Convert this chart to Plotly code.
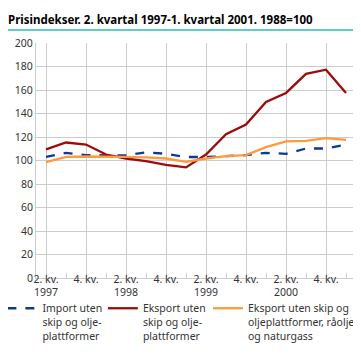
import plotly.graph_objects as go

quarters = ["2. kv.<br>1997", "3. kv. 1997", "4. kv.", "1. kv. 1998",
            "2. kv.<br>1998", "3. kv. 1998", "4. kv.", "1. kv. 1999",
            "2. kv.<br>1999", "3. kv. 1999", "4. kv.", "1. kv. 2000",
            "2. kv.<br>2000", "3. kv. 2000", "4. kv.", "1. kv. 2001"]

import_vals = [103, 106.5, 104.6, 104.3, 104.3, 107, 105.7, 103,
               103, 103.7, 104.6, 106.5, 105.7, 110.2, 110.2, 113.6]
eksport_vals = [109.4, 115.3, 113.6, 105.1, 101.7, 99.5, 96.3, 94.1,
                105.1, 122.4, 130.6, 149.9, 157.5, 173.7, 177.3, 157.5]
eksport_uten_olje = [98.6, 103.1, 103.4, 103.4, 103.1, 102.6, 101.7, 98.9,
                     101.7, 103.7, 104.6, 111.4, 116.2, 116.7, 119, 117.6]

names = ["Import uten<br>skip og olje-<br>plattformer",
         "Eksport uten<br>skip og olje-<br>plattformer",
         "Eksport uten skip og<br>oljeplattformer, råolje<br>og naturgass"]
colors = ["#0b3a96", "#9e0a0a", "#ff9a3c"]
dashes = ["dash", "solid", "solid"]
series = [import_vals, eksport_vals, eksport_uten_olje]
legend_ids = ["legend", "legend2", "legend3"]
legend_x = [-0.105, 0.209, 0.5375]

idx = list(range(len(quarters)))
fig = go.Figure()
for name, vals, c, d, lg in zip(names, series, colors, dashes, legend_ids):
    fig.add_trace(go.Scatter(x=idx, y=vals, mode="lines", name=name, legend=lg,
                             line=dict(color=c, width=2.3, dash=d)))

font = "Noto Sans, Open Sans, sans-serif"
legend_common = dict(orientation="v", xanchor="left", y=-0.072, yanchor="top",
                     valign="top", font=dict(size=10.5, color="#333333"),
                     bgcolor="rgba(0,0,0,0)")
tick_idx = idx[::2]
fig.update_layout(
    width=361, height=359,
    margin=dict(l=28, r=13, t=35, b=89, autoexpand=False),
    paper_bgcolor="white", plot_bgcolor="white",
    font=dict(family=font, size=11, color="#333333"),
    showlegend=True,
    legend=dict(x=legend_x[0], **legend_common),
    legend2=dict(x=legend_x[1], **legend_common),
    legend3=dict(x=legend_x[2], **legend_common),
    title=dict(text="<b>Prisindekser. 2. kvartal 1997-1. kvartal 2001. 1988=100</b>",
               x=0.0, xanchor="left", y=0.968, yanchor="middle",
               font=dict(family=font, size=11.5, color="#000000")),
    shapes=[
        dict(type="line", xref="paper", yref="paper", x0=-0.1, x1=1.1,
             y0=(359 - 22 - 89) / 235, y1=(359 - 22 - 89) / 235,
             line=dict(color="#5ccdc9", width=2)),
        dict(type="line", xref="paper", yref="paper", x0=-0.1, x1=1.1,
             y0=(359 - 357 - 89) / 235, y1=(359 - 357 - 89) / 235,
             line=dict(color="#5ccdc9", width=2)),
    ],
)
fig.update_xaxes(
    range=[-0.5, 15.5], tickmode="array", tickvals=tick_idx,
    ticktext=[quarters[i].split(" 19")[0] if "<br>" not in quarters[i] else quarters[i] for i in tick_idx],
    showgrid=True, gridcolor="#cccccc", gridwidth=1,
    showline=True, linecolor="#cccccc", linewidth=1,
    ticks="", zeroline=False, ticklabelstandoff=-9,
    minor=dict(tickmode="array", tickvals=idx[1::2], ticks="inside", ticklen=5,
               tickcolor="#cccccc", showgrid=False),
    tickfont=dict(size=10.5, color="#333333"),
)
fig.update_yaxes(
    range=[0, 200], dtick=20, showgrid=True, gridcolor="#cccccc", gridwidth=1,
    showline=True, linecolor="#cccccc", linewidth=1, zeroline=False,
    ticks="", tickfont=dict(size=10.5, color="#333333"),
)
fig.write_html("out.html")
